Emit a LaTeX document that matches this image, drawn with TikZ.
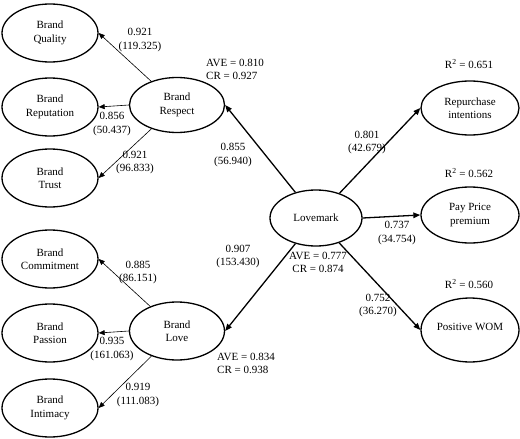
\documentclass[tikz,border=0pt]{standalone}
\usepackage{fontspec}
\setmainfont{Liberation Serif}
\usetikzlibrary{arrows.meta,shapes.geometric}
\begin{document}
\begin{tikzpicture}[x=1pt,y=-1pt,
  font=\fontsize{11}{13.5}\selectfont,
  lat/.style={draw,ellipse,line width=1.3pt,inner sep=0pt,align=center,minimum width=96pt,minimum height=58pt},
  ind/.style={draw,line width=0.6pt,-{Triangle[length=6pt,width=5pt]}},
  path/.style={draw,line width=1.3pt,-{Triangle[length=7pt,width=5.5pt]}},
  lbl/.style={align=center,inner sep=0pt},
  lbll/.style={align=left,inner sep=0pt,anchor=west}]
\useasboundingbox (0,0) rectangle (520,439);
% left indicators
\node[lat] (qual) at (50,33) {Brand\\Quality};
\node[lat] (rep) at (50,107) {Brand\\Reputation};
\node[lat] (trust) at (50,178) {Brand\\Trust};
\node[lat] (comm) at (50,259) {Brand\\Commitment};
\node[lat] (pass) at (50,333) {Brand\\Passion};
\node[lat] (intim) at (50,408) {Brand\\Intimacy};
% second order
\node[lat,minimum width=95pt,minimum height=55pt] (resp) at (177,105) {Brand\\Respect};
\node[lat,minimum width=95pt,minimum height=58pt] (love) at (177,331) {Brand\\Love};
\node[lat,minimum width=92pt,minimum height=56pt] (lm) at (316,218) {Lovemark};
% outcomes
\node[lat,minimum width=98pt,minimum height=54pt] (repur) at (470,108) {Repurchase\\intentions};
\node[lat,minimum width=98pt,minimum height=56pt] (pay) at (470,215) {Pay Price\\premium};
\node[lat,minimum width=98pt,minimum height=64pt] (wom) at (470,330) {\raisebox{6pt}{Positive WOM}};
% indicator arrows
\draw[ind] (resp) -- (qual.east);
\draw[ind] (resp.west) -- (rep.east);
\draw[ind] (resp) -- (trust.east);
\draw[ind] (love) -- (comm.east);
\draw[ind] (love.west) -- (pass.east);
\draw[ind] (love) -- (intim.east);
% structural arrows
\draw[path] (lm) -- (resp.east);
\draw[path] (lm) -- (love.east);
\draw[path] (lm) -- (repur.west);
\draw[path] (lm.east) -- (pay.west);
\draw[path] (lm) -- (wom.west);
% labels
\node[lbl] (l1) at (140,40) {0.921\\(119.325)};
\node[lbl] (l2) at (112,124) {0.856\\(50.437)};
\node[lbl] (l3) at (135,162.5) {0.921\\(96.833)};
\node[lbl] (l4) at (138,272.5) {0.885\\(86.151)};
\node[lbl] (l5) at (112,349) {0.935\\(161.063)};
\node[lbl] (l6) at (138,395) {0.919\\(111.083)};
\node[lbl] (l7) at (233,155) {0.855\\(56.940)};
\node[lbl] (l8) at (238,256.5) {0.907\\(153.430)};
\node[lbl] (l9) at (367,142.5) {0.801\\(42.679)};
\node[lbl] (l10) at (397,233) {0.737\\(34.754)};
\node[lbl] (l11) at (378,305.5) {0.752\\(36.270)};
\node[lbll] (a1) at (206,69.5) {AVE = 0.810\\CR = 0.927};
\node[lbll] (a2) at (217,363.5) {AVE = 0.834\\CR = 0.938};
\node[lbl] (a3) at (318,262.5) {AVE = 0.777\\CR = 0.874};
\node[lbl] (r1) at (469,64) {R\textsuperscript{2} = 0.651};
\node[lbl] (r2) at (469,173) {R\textsuperscript{2} = 0.562};
\node[lbl] (r3) at (469,284) {R\textsuperscript{2} = 0.560};
\end{tikzpicture}
\end{document}
